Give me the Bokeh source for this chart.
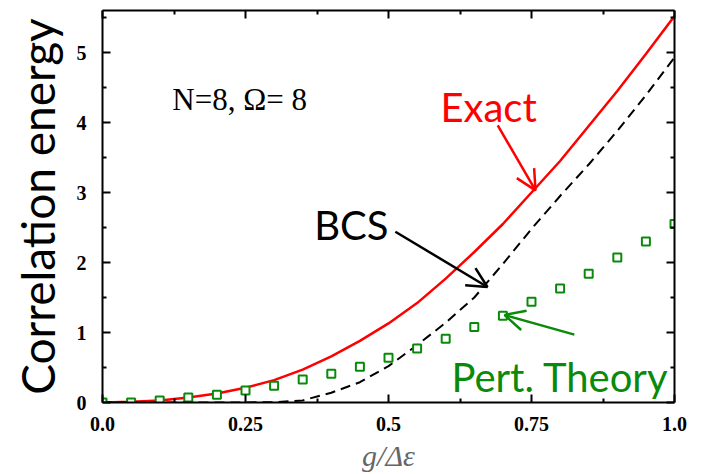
import math
from bokeh.plotting import figure
from bokeh.models import LinearAxis, FixedTicker, Range1d, Label, Arrow, OpenHead
from bokeh.embed import file_html
from bokeh.resources import INLINE

# ---- data ----
g = [0.0, 0.05, 0.10, 0.15, 0.20, 0.25, 0.30, 0.35, 0.40, 0.45, 0.50,
     0.55, 0.60, 0.65, 0.70, 0.75, 0.80, 0.85, 0.90, 0.95, 1.0]
exact = [0.0, 0.01, 0.03, 0.07, 0.13, 0.21, 0.32, 0.47, 0.66, 0.88, 1.13,
         1.42, 1.77, 2.15, 2.55, 3.00, 3.45, 3.95, 4.45, 4.98, 5.52]
bcs = [0.0, 0.0, 0.0, 0.0, 0.0, 0.0, 0.005, 0.03, 0.14, 0.29, 0.52,
       0.82, 1.14, 1.50, 1.98, 2.48, 2.95, 3.40, 3.88, 4.39, 4.93]
pert = [0.0, 0.0, 0.03, 0.07, 0.11, 0.17, 0.24, 0.33, 0.41, 0.51, 0.64,
        0.77, 0.91, 1.08, 1.24, 1.44, 1.63, 1.84, 2.07, 2.30, 2.55]

x_ticks = [0.0, 0.25, 0.5, 0.75, 1.0]
x_tick_labels = ["0.0", "0.25", "0.5", "0.75", "1.0"]
x_minor = [0.125, 0.375, 0.625, 0.875]
y_ticks = [0, 1, 2, 3, 4, 5]
y_minor = [0.5, 1.5, 2.5, 3.5, 4.5, 5.5]

GREEN = "#0a8a0a"

p = figure(width=694, height=474, x_range=Range1d(0, 1), y_range=Range1d(0, 5.6),
           output_backend="svg", toolbar_location=None,
           x_axis_location=None, y_axis_location=None,
           min_border_left=102, min_border_right=20, min_border_top=10, min_border_bottom=71)
p.grid.visible = False
p.outline_line_color = None
p.background_fill_color = "white"

tick_font = "Liberation Serif"

def make_axis(ticks, minor, labels, show_labels):
    ax = LinearAxis(ticker=FixedTicker(ticks=ticks, minor_ticks=minor))
    ax.axis_line_width = 2
    ax.axis_line_color = "black"
    ax.major_tick_in = 8
    ax.major_tick_out = 0
    ax.minor_tick_in = 4
    ax.minor_tick_out = 0
    ax.major_tick_line_width = 2
    ax.minor_tick_line_width = 2
    ax.major_tick_line_color = "black"
    ax.minor_tick_line_color = "black"
    if show_labels:
        if labels is not None:
            ax.major_label_overrides = {t: l for t, l in zip(ticks, labels)}
        ax.major_label_text_font = tick_font
        ax.major_label_text_font_style = "bold"
        ax.major_label_text_font_size = "20px"
        ax.major_label_text_color = "black"
    else:
        ax.major_label_overrides = {t: "" for t in ticks}
        ax.major_label_standoff = 0
    return ax

bottom = make_axis(x_ticks, x_minor, x_tick_labels, True)
bottom.major_label_standoff = 14
bottom.axis_label = "g/\u0394\u03b5"
bottom.axis_label_text_font = "Liberation Serif"
bottom.axis_label_text_font_style = "italic"
bottom.axis_label_text_font_size = "30px"
bottom.axis_label_text_color = "#666666"
bottom.axis_label_standoff = 5

left = make_axis(y_ticks, y_minor, None, True)
left.major_label_standoff = 16
left.axis_label = "Correlation energy"
left.axis_label_text_font = "Lato"
left.axis_label_text_font_style = "normal"
left.axis_label_text_font_size = "46px"
left.axis_label_text_color = "black"
left.axis_label_standoff = 9

top = make_axis(x_ticks, x_minor, None, False)
right = make_axis(y_ticks, y_minor, None, False)
p.add_layout(bottom, "below")
p.add_layout(left, "left")
p.add_layout(top, "above")
p.add_layout(right, "right")

# curves
p.line(g, exact, line_color="red", line_width=2.5)
p.line(g, bcs, line_color="black", line_width=2, line_dash="10 6")
p.scatter(g, pert, marker="square", size=8, fill_color="white",
          line_color=GREEN, line_width=2)

sans = "Lato"

p.add_layout(Label(x=0.122, y=4.33, text="N=8, \u03a9= 8", text_font="Liberation Serif",
                   text_font_size="31px", text_color="black", text_baseline="alphabetic"))
p.add_layout(Label(x=0.675, y=4.22, text="Exact", text_font=sans, text_font_size="40px",
                   text_color="red", text_align="center", text_baseline="alphabetic"))
p.add_layout(Label(x=0.435, y=2.54, text="BCS", text_font=sans, text_font_size="40px",
                   text_color="black", text_align="center", text_baseline="alphabetic"))
p.add_layout(Label(x=0.80, y=0.37, text="Pert. Theory", text_font=sans, text_font_size="40px",
                   text_color=GREEN, text_align="center", text_baseline="alphabetic"))

p.add_layout(Arrow(end=OpenHead(size=20, line_width=2.5, line_color="red"),
                   x_start=0.691, y_start=3.96, x_end=0.757, y_end=3.03,
                   line_color="red", line_width=2.5))
p.add_layout(Arrow(end=OpenHead(size=20, line_width=2.5, line_color="black"),
                   x_start=0.512, y_start=2.44, x_end=0.673, y_end=1.65,
                   line_color="black", line_width=2.5))
p.add_layout(Arrow(end=OpenHead(size=20, line_width=2.5, line_color=GREEN),
                   x_start=0.825, y_start=0.97, x_end=0.703, y_end=1.25,
                   line_color=GREEN, line_width=2.5))

open("out.html", "w").write(file_html(p, INLINE))
